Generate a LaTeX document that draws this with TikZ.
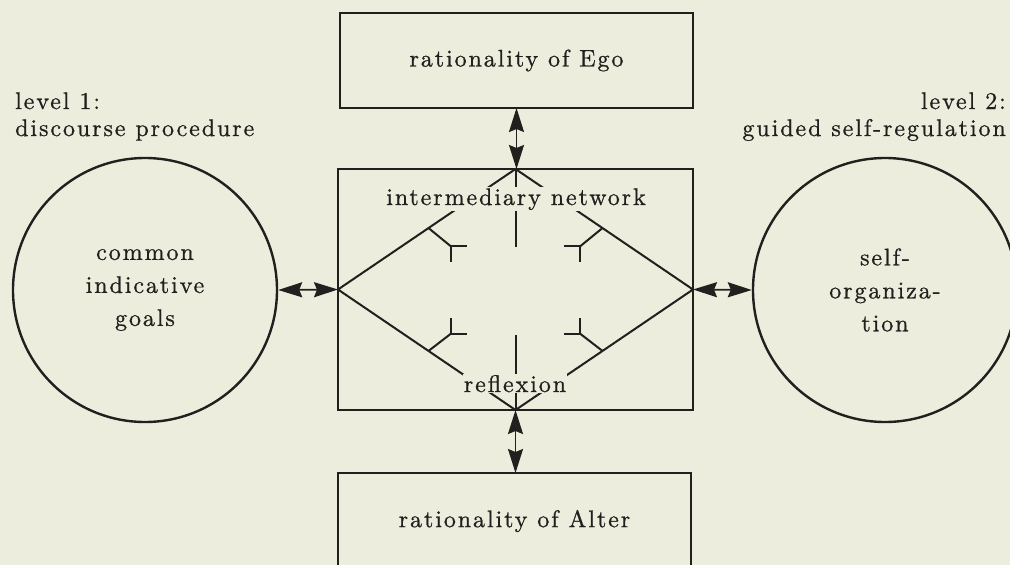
\documentclass[tikz,border=0pt]{standalone}
\usepackage{fontspec}
\setmainfont{lmroman10-regular.otf}[LetterSpace=8,FakeBold=0.8]
\usetikzlibrary{arrows.meta,calc}
\definecolor{paper}{RGB}{236,237,221}
\definecolor{ink}{RGB}{32,32,30}
\tikzset{
  txt/.style={font=\fontsize{24}{33}\selectfont, text=ink, inner sep=1pt, align=center},
  boxnode/.style={draw=ink, line width=2.2pt, rectangle, inner sep=0pt, outer sep=0pt},
  circnode/.style={draw=ink, line width=2.4pt, circle, minimum size=264pt, inner sep=0pt,
                   font=\fontsize{24}{33}\selectfont, text=ink, align=center},
  ln/.style={draw=ink, line width=2pt},
  dbl/.style={draw=ink, fill=ink, line width=1.8pt,
    {Stealth[length=24pt,width=15pt,inset=3pt]}-{Stealth[length=24pt,width=15pt,inset=3pt]}},
  mask/.style={txt, fill=paper}
}
\begin{document}
\begin{tikzpicture}[x=1pt,y=-1pt]
\useasboundingbox (0,0) rectangle (1010,565);
\fill[paper] (0,0) rectangle (1010,565);
\clip (0,0) rectangle (1010,565);

% boxes
\node[boxnode, minimum width=353pt, minimum height=95pt, txt] (ego) at (516.5,60.5) {rationality of Ego};
\node[boxnode, minimum width=355pt, minimum height=241pt] (mid) at (515.5,289.5) {};
\node[boxnode, minimum width=353pt, minimum height=96pt, txt] (alter) at (514.5,521) {rationality of Alter};

% circles
\node[circnode] (goals) at (145,290) {common\\indicative\\goals};
\node[circnode] (selforg) at (885,290) {self-\\organiza-\\tion};

% diamond
\draw[ln, line join=miter] (mid.north) -- (mid.east) -- (mid.south) -- (mid.west) -- cycle;
\draw[ln] (mid.north) -- ++(0,78) coordinate (vtop);
\draw[ln] (mid.south) -- ++(0,-75) coordinate (vbot);

% inner fork arrows
\coordinate (tlE) at ($(mid.west)!0.51!(mid.north)$);
\coordinate (trE) at ($(mid.east)!0.51!(mid.north)$);
\coordinate (blE) at ($(mid.west)!0.51!(mid.south)$);
\coordinate (brE) at ($(mid.east)!0.51!(mid.south)$);
\draw[ln] (tlE) -- ++(22,18) coordinate (tlJ);
\draw[ln] ($(tlJ)+(16,0)$) -- (tlJ) -- ++(0,16);
\draw[ln] (trE) -- ++(-22,18) coordinate (trJ);
\draw[ln] ($(trJ)+(-16,0)$) -- (trJ) -- ++(0,16);
\draw[ln] (blE) -- ++(22,-17) coordinate (blJ);
\draw[ln] ($(blJ)+(16,0)$) -- (blJ) -- ++(0,-16);
\draw[ln] (brE) -- ++(-22,-17) coordinate (brJ);
\draw[ln] ($(brJ)+(-16,0)$) -- (brJ) -- ++(0,-16);

% labels over the diamond
\node[mask, anchor=base] (net) at (516,205) {intermediary network};
\node[mask, anchor=base] (refl) at (515,392) {reflexion};

% double arrows
\draw[dbl] (ego.south) -- (ego.south |- mid.north);
\draw[dbl] (mid.south) -- (mid.south |- alter.north);
\draw[dbl] (goals.east) -- (mid.west);
\draw[dbl] (mid.east) -- (selforg.west);

% level headings
\node[txt, anchor=base west] (l1a) at (14,109) {level 1:};
\node[txt, anchor=base west] (l1b) at (14,136) {discourse procedure};
\node[txt, anchor=base east] (l2a) at (1007,109) {level 2:};
\node[txt, anchor=base east] (l2b) at (1007,136) {guided self-regulation};
\end{tikzpicture}
\end{document}
